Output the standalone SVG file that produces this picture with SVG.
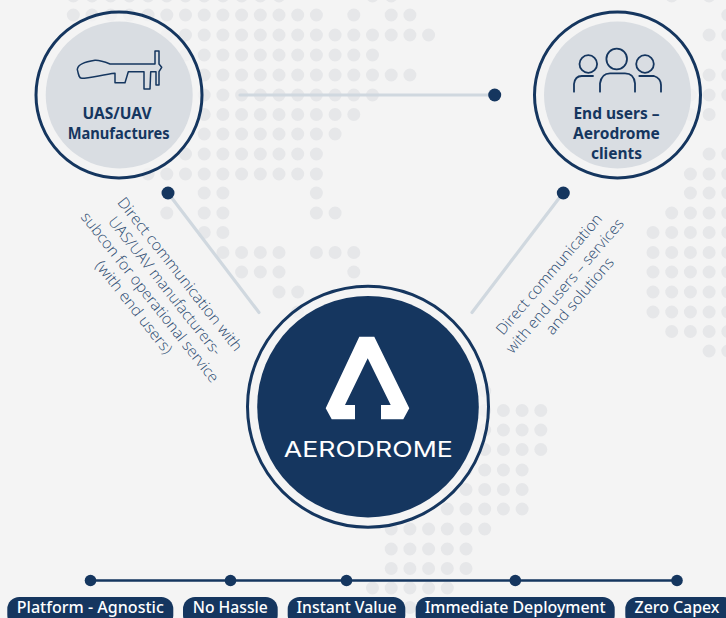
<svg xmlns="http://www.w3.org/2000/svg" width="726" height="618" viewBox="0 0 726 618">
<style>
.bg{fill:#f4f4f4}
#dots line{stroke:#e6e7e9;stroke-width:13;stroke-linecap:round;stroke-dasharray:0 18.7;fill:none}
.ring{fill:#f4f4f4;fill-opacity:.72;stroke:#15365f;stroke-width:3}
.inner{fill:#d9dde2}
.ln{stroke:#d0d8df;stroke-width:3.2;fill:none;stroke-linecap:round}
.dot{fill:#15365f}
.ic{fill:none;stroke:#15365f;stroke-width:1.8;stroke-linecap:round;stroke-linejoin:round}
.b{font-family:"Noto Sans",sans-serif;font-weight:700;font-size:15.5px;text-anchor:middle;fill:#15365f}
.n{font-family:"Open Sans","Noto Sans",sans-serif;font-size:15.2px;font-weight:300;fill:#2b4a70;text-anchor:middle}
.pill{fill:#15365f}
.pt{font-family:"Noto Sans",sans-serif;font-size:16.5px;font-weight:500;fill:#fff;text-anchor:middle}
.logo{fill:#fff}
.lt{font-family:"Inter","Noto Sans",sans-serif;font-size:22px;font-weight:400;fill:#fff;text-anchor:middle}
</style>
<rect class="bg" width="726" height="618"/>
<g id="dots">
<line x1="73.3" x2="279.1" y1="-4" y2="-4"/><line x1="372.5" x2="391.3" y1="-4" y2="-4"/><line x1="671.7" x2="671.8" y1="-4" y2="-4"/><line x1="709.1" x2="709.2" y1="-4" y2="-4"/>
<line x1="73.3" x2="316.5" y1="15" y2="15"/><line x1="353.8" x2="353.9" y1="15" y2="15"/><line x1="391.2" x2="410" y1="15" y2="15"/><line x1="727.8" x2="727.9" y1="15" y2="15"/>
<line x1="148.1" x2="428.7" y1="35" y2="35"/><line x1="709.1" x2="727.9" y1="35" y2="35"/>
<line x1="148.1" x2="372.6" y1="55" y2="55"/><line x1="727.8" x2="727.9" y1="55" y2="55"/>
<line x1="166.8" x2="410" y1="75" y2="75"/><line x1="709.1" x2="727.9" y1="75" y2="75"/>
<line x1="185.5" x2="372.6" y1="95" y2="95"/><line x1="690.4" x2="727.9" y1="95" y2="95"/>
<line x1="204.2" x2="353.9" y1="114.5" y2="114.5"/><line x1="690.4" x2="709.2" y1="114.5" y2="114.5"/>
<line x1="204.2" x2="335.2" y1="134" y2="134"/>
<line x1="185.5" x2="316.5" y1="154" y2="154"/><line x1="709.1" x2="727.9" y1="154" y2="154"/>
<line x1="148.1" x2="316.5" y1="174" y2="174"/><line x1="690.4" x2="727.9" y1="174" y2="174"/>
<line x1="204.2" x2="223" y1="193" y2="193"/><line x1="316.4" x2="316.5" y1="193" y2="193"/><line x1="690.4" x2="727.9" y1="193" y2="193"/>
<line x1="166.8" x2="166.9" y1="213" y2="213"/><line x1="204.2" x2="223" y1="213" y2="213"/><line x1="316.4" x2="335.2" y1="213" y2="213"/><line x1="671.7" x2="727.9" y1="213" y2="213"/>
<line x1="204.2" x2="223" y1="232.5" y2="232.5"/><line x1="653" x2="727.9" y1="232.5" y2="232.5"/>
<line x1="222.9" x2="279.1" y1="252.5" y2="252.5"/><line x1="316.4" x2="353.9" y1="252.5" y2="252.5"/><line x1="653" x2="727.9" y1="252.5" y2="252.5"/>
<line x1="241.6" x2="279.1" y1="272" y2="272"/><line x1="353.8" x2="353.9" y1="272" y2="272"/><line x1="653" x2="727.9" y1="272" y2="272"/>
<line x1="279" x2="297.8" y1="292" y2="292"/><line x1="653" x2="727.9" y1="292" y2="292"/>
<line x1="297.7" x2="297.8" y1="312" y2="312"/><line x1="653" x2="727.9" y1="312" y2="312"/>
<line x1="671.7" x2="727.9" y1="331.5" y2="331.5"/>
<line x1="709.1" x2="727.9" y1="351" y2="351"/>
<line x1="484.7" x2="484.8" y1="391" y2="391"/>
<line x1="484.7" x2="540.9" y1="410.5" y2="410.5"/>
<line x1="484.7" x2="540.9" y1="430" y2="430"/>
<line x1="484.7" x2="540.9" y1="449.5" y2="449.5"/>
<line x1="466" x2="522.2" y1="470" y2="470"/>
<line x1="447.3" x2="522.2" y1="489.5" y2="489.5"/>
<line x1="447.3" x2="522.2" y1="509" y2="509"/>
<line x1="391.2" x2="484.8" y1="529" y2="529"/>
<line x1="391.2" x2="466.1" y1="549" y2="549"/>
<line x1="391.2" x2="466.1" y1="568.5" y2="568.5"/>
<line x1="372.5" x2="447.4" y1="588" y2="588"/>
<line x1="372.5" x2="447.4" y1="607.5" y2="607.5"/>
</g>
<g id="connectors">
<line class="ln" x1="240" y1="95" x2="494" y2="95"/>
<line class="ln" x1="168" y1="193" x2="259" y2="312.5"/>
<line class="ln" x1="563" y1="193" x2="472" y2="312.5"/>
<circle class="dot" cx="494.7" cy="95" r="6.5"/>
<circle class="dot" cx="168" cy="193" r="6.5"/>
<circle class="dot" cx="563.3" cy="193" r="6.5"/>
<path d="M90.5 580.5H677" stroke="#15365f" stroke-width="2.6" fill="none"/>
<circle class="dot" cx="90.5" cy="580.5" r="5.8"/>
<circle class="dot" cx="230.5" cy="580.5" r="5.8"/>
<circle class="dot" cx="346.5" cy="580.5" r="5.8"/>
<circle class="dot" cx="515.3" cy="580.5" r="5.8"/>
<circle class="dot" cx="677" cy="580.5" r="5.8"/>
</g>
<g id="node-manufactures">
<circle class="ring" cx="119" cy="95" r="83"/>
<circle class="inner" cx="119.2" cy="95" r="73.5"/>
<path class="ic" style="stroke-width:1.5" d="M77.3 69.3C78 64 85 61.7 95 60.3C100 60 105 62 110 64H155V51H159V64L161.7 67.3L159 71.7V85H156V71.7H150.7L150 89H144V71.7H128.3L125 82.7H115V73.3C103 74.5 90 78.3 81.7 78.3C79 78.3 78.5 75 77.3 69.3Z"/>
<text class="b" x="117" y="118.5">UAS/UAV</text>
<text class="b" x="118.7" y="138.5" textLength="102" lengthAdjust="spacingAndGlyphs">Manufactures</text>
</g>
<g id="node-end-users">
<circle class="ring" cx="617.5" cy="95" r="83"/>
<circle class="inner" cx="617.5" cy="95" r="73.5"/>
<g class="ic">
<circle cx="616.7" cy="59" r="10.3"/>
<circle cx="588.3" cy="64" r="8.8"/>
<circle cx="645" cy="64" r="8.8"/>
<path d="M600 91.7V83.3Q601.7 73.3 610 73.3H625Q634 73.3 635 83.3V91.7"/>
<path d="M574 91.7V84Q575 76 581.7 76H593"/>
<path d="M639.3 76H654Q660.7 78 661 85V91.7"/>
</g>
<text class="b" x="616.5" y="118.5">End users –</text>
<text class="b" x="616.5" y="138.5">Aerodrome</text>
<text class="b" x="616.5" y="159">clients</text>
</g>
<g id="node-aerodrome">
<circle class="ring" cx="368" cy="406.7" r="120.5"/>
<circle class="dot" cx="368" cy="406.7" r="110.8"/>
<path class="logo" d="M359.3 336.7H374.3L409.3 408.3L403.3 419.3H381V405H390.7L367.7 358.3L345 405H355V419.3H331.7L325.7 408.3Z"/>
<text class="lt" x="368.3" y="456.7" textLength="169" lengthAdjust="spacingAndGlyphs">AERODROME</text>
</g>
<g id="label-left">
<text class="n" transform="translate(175.9 277.5) rotate(51.7)" textLength="191" lengthAdjust="spacingAndGlyphs">Direct communication with</text>
<text class="n" transform="translate(160.9 289.2) rotate(51.7)" textLength="172" lengthAdjust="spacingAndGlyphs">UAS/UAV manufacturers-</text>
<text class="n" transform="translate(145.9 300.5) rotate(51.7)" textLength="212" lengthAdjust="spacingAndGlyphs">subcon for operational service</text>
<text class="n" transform="translate(129.9 310.5) rotate(51.7)" textLength="114" lengthAdjust="spacingAndGlyphs">(with end users)</text>
</g>
<g id="label-right">
<text class="n" transform="translate(553 277.6) rotate(-49.4)" textLength="153.7" lengthAdjust="spacingAndGlyphs">Direct communication</text>
<text class="n" transform="translate(568.7 289.3) rotate(-49.4)" textLength="171.8" lengthAdjust="spacingAndGlyphs">with end users – services</text>
<text class="n" transform="translate(583.7 299.3) rotate(-49.4)" textLength="95.8" lengthAdjust="spacingAndGlyphs">and solutions</text>
</g>
<g id="pill-platform"><rect class="pill" x="7.3" y="597" width="166" height="30" rx="12"/><text class="pt" x="90.3" y="613.2" textLength="147" lengthAdjust="spacingAndGlyphs">Platform - Agnostic</text></g>
<g id="pill-hassle"><rect class="pill" x="183" y="597" width="94.7" height="30" rx="12"/><text class="pt" x="230.3" y="613.2" textLength="75" lengthAdjust="spacingAndGlyphs">No Hassle</text></g>
<g id="pill-value"><rect class="pill" x="287.7" y="597" width="117.6" height="30" rx="12"/><text class="pt" x="346.5" y="613.2" textLength="100" lengthAdjust="spacingAndGlyphs">Instant Value</text></g>
<g id="pill-deployment"><rect class="pill" x="415.7" y="597" width="199" height="30" rx="12"/><text class="pt" x="515.2" y="613.2" textLength="181" lengthAdjust="spacingAndGlyphs">Immediate Deployment</text></g>
<g id="pill-capex"><rect class="pill" x="625.3" y="597" width="110" height="30" rx="12"/><text class="pt" x="677" y="613.2" textLength="85" lengthAdjust="spacingAndGlyphs">Zero Capex</text></g>
</svg>
